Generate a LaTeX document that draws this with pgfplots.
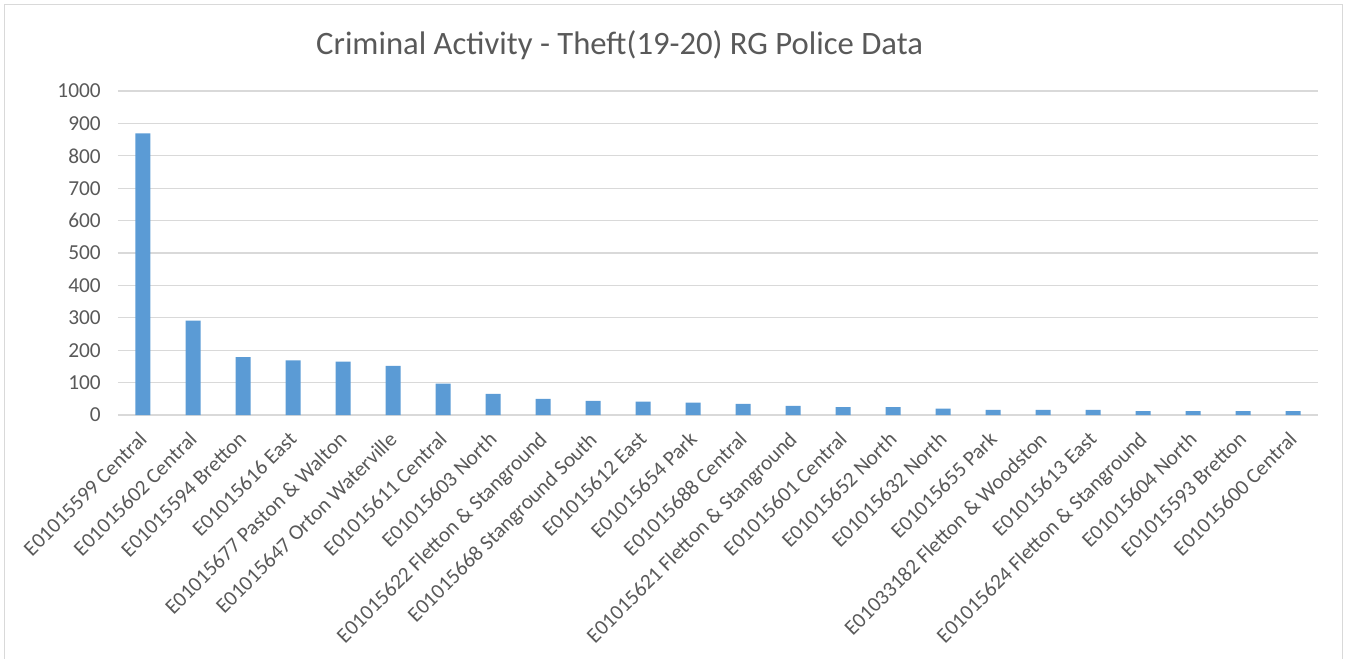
\documentclass[border=0pt]{standalone}
\usepackage{pgfplots}
\pgfplotsset{compat=1.18}
\usepackage{fontspec}
\setmainfont{Carlito}
\definecolor{barblue}{HTML}{5B9BD5}
\definecolor{gridgray}{HTML}{D9D9D9}
\definecolor{txtgray}{HTML}{595959}
\begin{document}
\begin{tikzpicture}[x=0.75pt,y=0.75pt]
\path[use as bounding box] (-118,-243) rectangle (1231,415);
\draw[gridgray, line width=0.75pt] (-113,-250) -- (-113,410) -- (1224,410) -- (1224,-250);
\begin{axis}[
  at={(0,0)}, anchor=south west,
  scale only axis, width=900pt, height=243pt,
  xmin=-0.5, xmax=23.5, ymin=0, ymax=1000,
  ytick={0,100,...,1000},
  ymajorgrids, grid style={gridgray, line width=1pt},
  axis x line=bottom, axis y line=left,
  y axis line style={draw=none},
  x axis line style={gridgray, line width=1pt, -},
  major tick length=0pt, tick style={draw=none},
  /pgf/number format/assume math mode=true,
  /pgf/number format/1000 sep={},
  xtick=data,
  xticklabels={E01015599 Central, E01015602 Central, E01015594 Bretton, E01015616 East, E01015677 Paston \& Walton, E01015647 Orton Waterville, E01015611 Central, E01015603 North, E01015622 Fletton \& Stanground, E01015668 Stanground South, E01015612 East, E01015654 Park, E01015688 Central, E01015621 Fletton \& Stanground, E01015601 Central, E01015652 North, E01015632 North, E01015655 Park, E01033182 Fletton \& Woodston, E01015613 East, E01015624 Fletton \& Stanground, E01015604 North, E01015593 Bretton, E01015600 Central},
  x tick label style={xshift=-4pt, yshift=-10pt, rotate=45, anchor=north east, font=\fontsize{16}{18}\selectfont, text=txtgray, inner sep=1pt},
  y tick label style={font=\fontsize{16}{18}\selectfont, text=txtgray, inner sep=0pt, xshift=-12.75pt},
  ybar, bar width=11.25pt,
  clip=false,
]
\addplot[fill=barblue, draw=none] coordinates {
(0,869) (1,291) (2,179) (3,169) (4,165) (5,152) (6,97) (7,65) (8,50) (9,44) (10,41) (11,38) (12,34) (13,28) (14,24) (15,24) (16,20) (17,16) (18,16) (19,16) (20,12) (21,12) (22,12) (23,12)
};
\node[font=\fontsize{24.5}{28}\selectfont, text=txtgray] at (rel axis cs:0.418,1.142) {Criminal Activity - Theft(19-20) RG Police Data};
\end{axis}
\end{tikzpicture}
\end{document}
